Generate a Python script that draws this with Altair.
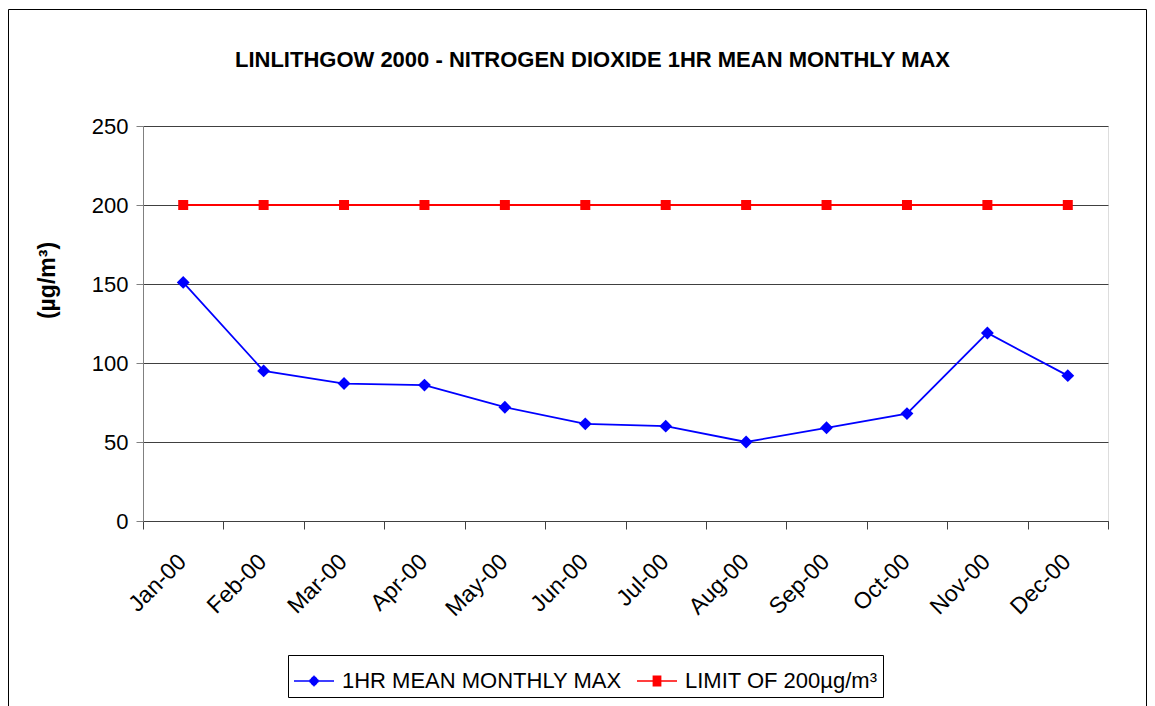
import altair as alt
import pandas as pd

months = ["Jan-00", "Feb-00", "Mar-00", "Apr-00", "May-00", "Jun-00",
          "Jul-00", "Aug-00", "Sep-00", "Oct-00", "Nov-00", "Dec-00"]
no2_max = [151, 95, 87, 86, 72, 61.5, 60, 50, 59, 68, 119, 92]
limit = [200, 200, 200, 200, 200, 200, 200, 200, 200, 200, 200, 200]
series_names = ["1HR MEAN MONTHLY MAX", "LIMIT OF 200µg/m³"]
series_colors = ["#0000FF", "#FF0000"]
y_ticks = [0, 50, 100, 150, 200, 250]

rows = []
for m, v in zip(months, no2_max):
    rows.append({"month": m, "value": v, "series": series_names[0]})
for m, v in zip(months, limit):
    rows.append({"month": m, "value": v, "series": series_names[1]})
df = pd.DataFrame(rows)

FONT = "Liberation Sans"

x_enc = alt.X(
    "month:O", sort=months,
    scale=alt.Scale(type="band", paddingInner=0, paddingOuter=0),
    axis=alt.Axis(title=None, labelAngle=315, labelAlign="right", labelBaseline="top",
                  labelFont=FONT, labelFontSize=23, labelColor="black", labelPadding=21,
                  labelOffset=-9,
                  tickBand="extent", tickSize=8, tickColor="#404040",
                  domainColor="#404040", grid=False),
)
y_enc = alt.Y(
    "value:Q",
    scale=alt.Scale(domain=[0, 250], nice=False, zero=True),
    axis=alt.Axis(values=y_ticks, title="(µg/m³)", titleFont=FONT, titleFontSize=23,
                  titleFontWeight="bold", titleColor="black", titleX=-96, titleY=154,
                  titleBaseline="middle", titleAlign="center",
                  labelFont=FONT, labelFontSize=22, labelColor="black", labelPadding=8,
                  tickSize=7, tickColor="#808080", domainColor="#808080",
                  grid=True, gridColor="#404040", gridWidth=1),
)
color_scale = alt.Scale(domain=series_names, range=series_colors)
color_enc = alt.Color("series:N", scale=color_scale, legend=None)

base = alt.Chart(df)

lines = base.mark_line(strokeWidth=1.8).encode(x=x_enc, y=y_enc, color=color_enc)

diamonds = base.transform_filter(alt.datum.series == series_names[0]).mark_point(
    shape="diamond", filled=True, size=165, opacity=1
).encode(x=x_enc, y=y_enc, color=color_enc)

squares = base.transform_filter(alt.datum.series == series_names[1]).mark_point(
    shape="square", filled=True, size=100, opacity=1
).encode(x=x_enc, y=y_enc, color=color_enc)


# legend symbols: a line segment with a solid marker drawn from strokes
def hatch(halfwidth_fn, ext):
    parts = ["M-1,0L1,0"]
    n = int(round(ext / 0.04))
    for i in range(-n, n + 1):
        yy = i * 0.04
        h = halfwidth_fn(abs(yy))
        if h > 0:
            parts.append(f"M{-h:.3f},{yy:.3f}L{h:.3f},{yy:.3f}")
    return "".join(parts)


legend_paths = [
    hatch(lambda a: 0.27 - a, 0.27),
    hatch(lambda a: 0.22, 0.22),
]
leg = alt.Legend(
    title=None, orient="none", legendX=145, legendY=529, direction="horizontal",
    strokeColor="black", padding=5, symbolSize=1600, symbolStrokeWidth=1.5,
    labelFont=FONT, labelFontSize=22, labelColor="black", labelOffset=7,
    labelLimit=500, columnPadding=12,
)
legend_layer = base.mark_point(filled=False, opacity=0, strokeWidth=1.5).encode(
    x=x_enc, y=y_enc,
    color=alt.Color("series:N", scale=color_scale, legend=leg),
    shape=alt.Shape("series:N", scale=alt.Scale(domain=series_names, range=legend_paths), legend=leg),
)

frame = alt.Chart(pd.DataFrame({"a": [0]})).mark_rect(
    fill="transparent", stroke="black", strokeWidth=1, clip=False
).encode(x=alt.value(-134.5), x2=alt.value(1003.5), y=alt.value(-116.5), y2=alt.value(600))

chart = alt.layer(frame, lines, diamonds, squares, legend_layer).resolve_legend(
    color="independent", shape="independent"
).properties(
    width=965, height=395,
    title=alt.TitleParams(
        "LINLITHGOW 2000 - NITROGEN DIOXIDE 1HR MEAN MONTHLY MAX",
        font=FONT, fontSize=22, fontWeight="bold", color="black",
        anchor="middle", dx=-33, offset=0, dy=63,
    ),
    autosize=alt.AutoSizeParams(type="none"),
    padding={"left": 135, "top": 118, "right": 39, "bottom": 190},
).configure_view(stroke=None).configure(background="white")

chart.save("out.html", embed_options={"renderer": "svg", "actions": False})
